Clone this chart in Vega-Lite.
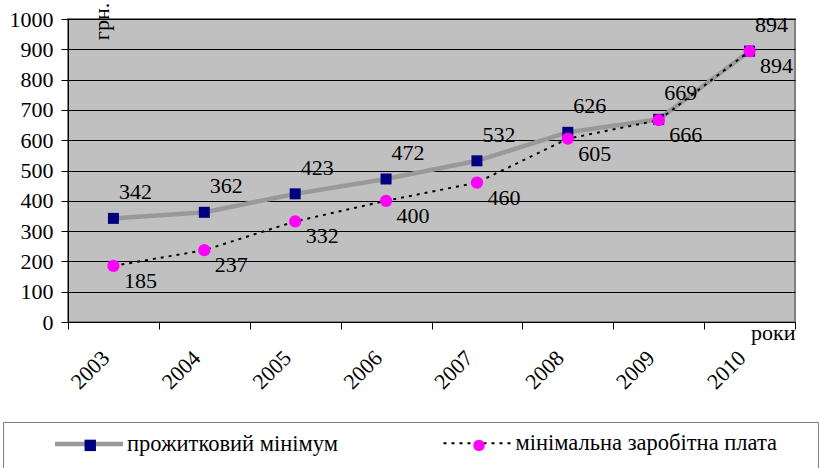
{
  "$schema": "https://vega.github.io/schema/vega-lite/v6.json",
  "width": 727,
  "height": 303,
  "autosize": {"type": "none"},
  "padding": {"left": 68, "top": 19, "right": 24, "bottom": 146},
  "background": "white",
  "config": {
    "view": {"fill": "#c0c0c0", "stroke": "#808080", "strokeWidth": 2},
    "font": "Liberation Serif",
    "axis": {
      "labelFont": "Liberation Serif", "labelFontSize": 22, "labelColor": "black",
      "titleFont": "Liberation Serif", "titleFontSize": 22, "titleFontWeight": "normal", "titleColor": "black",
      "domainColor": "black", "tickColor": "black", "gridColor": "black", "gridOpacity": 1,
      "tickSize": 7, "domainWidth": 1, "tickWidth": 1, "gridWidth": 1
    },
    "legend": {
      "labelFont": "Liberation Serif", "labelFontSize": 22.5, "labelColor": "black", "labelLimit": 600,
      "titleFont": "Liberation Serif", "titleFontSize": 21, "titleFontWeight": "normal"
    }
  },
  "data": {
    "values": [
      {"year": "2003", "series": "прожитковий мінімум", "value": 342},
      {"year": "2004", "series": "прожитковий мінімум", "value": 362},
      {"year": "2005", "series": "прожитковий мінімум", "value": 423},
      {"year": "2006", "series": "прожитковий мінімум", "value": 472},
      {"year": "2007", "series": "прожитковий мінімум", "value": 532},
      {"year": "2008", "series": "прожитковий мінімум", "value": 626},
      {"year": "2009", "series": "прожитковий мінімум", "value": 669},
      {"year": "2010", "series": "прожитковий мінімум", "value": 894},
      {"year": "2003", "series": "мінімальна заробітна плата", "value": 185},
      {"year": "2004", "series": "мінімальна заробітна плата", "value": 237},
      {"year": "2005", "series": "мінімальна заробітна плата", "value": 332},
      {"year": "2006", "series": "мінімальна заробітна плата", "value": 400},
      {"year": "2007", "series": "мінімальна заробітна плата", "value": 460},
      {"year": "2008", "series": "мінімальна заробітна плата", "value": 605},
      {"year": "2009", "series": "мінімальна заробітна плата", "value": 666},
      {"year": "2010", "series": "мінімальна заробітна плата", "value": 894}
    ]
  },
  "encoding": {
    "x": {
      "field": "year", "type": "ordinal", "bandPosition": 0.5,
      "scale": {"type": "band", "paddingInner": 0, "paddingOuter": 0},
      "axis": {
        "title": "роки", "titleX": 727, "titleY": 17, "titleAlign": "right", "titleBaseline": "alphabetic",
        "labelAngle": -45, "labelAlign": "right", "labelBaseline": "middle", "labelPadding": 25, "labelOffset": -8,
        "tickBand": "extent", "grid": false
      }
    },
    "y": {
      "field": "value", "type": "quantitative",
      "scale": {"domain": [0, 1000]},
      "axis": {
        "title": "грн.", "titleAngle": 270, "titleX": 33, "titleY": 2, "titleAlign": "center", "titleBaseline": "middle",
        "tickCount": 10, "format": "d", "labelPadding": 8, "grid": true
      }
    }
  },
  "layer": [
    {
      "mark": {"type": "line", "strokeCap": "butt"},
      "encoding": {
        "color": {
          "field": "series", "type": "nominal", "sort": "descending",
          "scale": {"range": ["#999999", "#000000"]},
          "legend": {
            "title": null, "orient": "none", "legendX": -15.5, "legendY": 388.5,
            "direction": "horizontal", "columns": 2, "columnPadding": 100.5,
            "symbolType": "stroke", "symbolSize": 4624, "labelOffset": 1.5,
            "padding": 0, "zindex": 1
          }
        },
        "strokeDash": {
          "field": "series", "type": "nominal", "sort": "descending",
          "scale": {"range": [[1, 0], [3, 5]]}
        },
        "strokeWidth": {
          "field": "series", "type": "nominal", "sort": "descending",
          "scale": {"type": "point", "range": [4.5, 2], "padding": 0}
        }
      }
    },
    {
      "transform": [{"filter": "datum.value >= 0"}],
      "mark": {"type": "point", "filled": true, "opacity": 1, "strokeWidth": 0},
      "encoding": {
        "fill": {
          "field": "series", "type": "nominal", "sort": "descending",
          "scale": {"range": ["#000080", "#ff00ff"]},
          "legend": {
            "title": " ", "titleOrient": "left", "titlePadding": 64, "orient": "none", "legendX": -65, "legendY": 403,
            "direction": "horizontal", "columns": 2, "columnPadding": 49.75,
            "labelOffset": 315.75, "labelExpr": "''", "labelFontSize": 22.5, "padding": 12, "strokeColor": "#808080",
            "symbolSize": 130, "symbolStrokeWidth": 0, "zindex": 2
          }
        },
        "shape": {
          "field": "series", "type": "nominal", "sort": "descending",
          "scale": {"range": ["square", "circle"]}
        },
        "size": {"condition": {"test": "datum.series === 'мінімальна заробітна плата'", "value": 150}, "value": 121}
      }
    },
    {
      "transform": [{"filter": "datum.series === 'прожитковий мінімум'"}],
      "mark": {"type": "text", "dx": 22, "dy": -26, "font": "Liberation Serif", "fontSize": 22, "color": "black"},
      "encoding": {"text": {"field": "value", "type": "quantitative"}}
    },
    {
      "transform": [{"filter": "datum.series === 'мінімальна заробітна плата'"}],
      "mark": {"type": "text", "dx": 27, "dy": 15, "font": "Liberation Serif", "fontSize": 22, "color": "black"},
      "encoding": {"text": {"field": "value", "type": "quantitative"}}
    }
  ]
}
